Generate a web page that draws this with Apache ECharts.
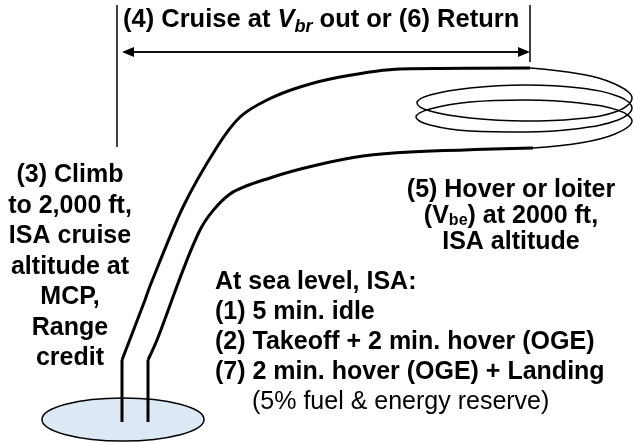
<!DOCTYPE html>
<html>
<head>
<meta charset="utf-8">
<script src="https://cdn.jsdelivr.net/npm/echarts@6/dist/echarts.min.js"></script>
<style>
html, body { margin: 0; padding: 0; background: #fff; }
#main { width: 634px; height: 442px; }
</style>
</head>
<body>
<div id="main"></div>
<script>
// diagram points, in picture coordinates (x right, y down)
const climbOutStem = [[122, 422], [122, 360]]
const climbOutCurve = [[122, 360], [145, 300], [150, 286], [183, 207], [217, 147], [240, 117], [267, 100], [300, 87], [340, 77], [400, 69], [530, 68]]
const returnStem = [[148, 422], [148, 360]]
const returnCurve = [[148, 360], [157, 340], [200, 230], [230, 194], [273, 177], [317, 165], [363, 156], [410, 152], [533, 148]]
const loiterSpiral = [
  [530, 68], [580, 74], [615, 84], [632, 98], [618, 111], [575, 119], [525, 121], [470, 118], [430, 111], [417, 103],
  [430, 95], [470, 88], [525, 85], [580, 88], [620, 97], [632, 108], [618, 120], [575, 129], [525, 132], [470, 131], [430, 125], [416, 117],
  [430, 109], [470, 102], [525, 100], [580, 103], [620, 111], [632, 121], [615, 134], [580, 143], [533, 148]
]
const cruiseSpan = [[128, 52], [524, 52]]
const leftTick = [[117, 5], [117, 147]]
const rightTick = [[530, 5], [530, 62]]
const padBox = [[42, 398, 204, 441]]

const font = '"Liberation Sans", Arial, sans-serif'

const myChart = echarts.init(document.getElementById('main'))

function lineSeries (data, width, smooth) {
  return {
    type: 'line',
    data: data,
    symbol: 'none',
    smooth: smooth,
    silent: true,
    lineStyle: { color: '#000', width: width },
    z: 3
  }
}

const option = {
  animation: false,
  backgroundColor: '#fff',
  grid: { left: 0, right: 0, top: 0, bottom: 0 },
  xAxis: { type: 'value', min: 0, max: 634, show: false },
  yAxis: { type: 'value', min: 0, max: 442, inverse: true, show: false },
  series: [
    {
      type: 'custom',
      silent: true,
      data: padBox,
      renderItem: function (params, api) {
        const p0 = api.coord([api.value(0), api.value(1)])
        const p1 = api.coord([api.value(2), api.value(3)])
        return {
          type: 'ellipse',
          shape: {
            cx: (p0[0] + p1[0]) / 2,
            cy: (p0[1] + p1[1]) / 2,
            rx: Math.abs(p1[0] - p0[0]) / 2,
            ry: Math.abs(p1[1] - p0[1]) / 2
          },
          style: { fill: '#dce9f5', stroke: '#000', lineWidth: 1.5 }
        }
      },
      z: 1
    },
    lineSeries(climbOutStem, 3, false),
    lineSeries(climbOutCurve, 3, 0.3),
    lineSeries(returnStem, 3, false),
    lineSeries(returnCurve, 3, 0.3),
    lineSeries(loiterSpiral, 1.5, 0.4),
    lineSeries(leftTick, 1.5, false),
    lineSeries(rightTick, 1.5, false),
    {
      type: 'line',
      data: cruiseSpan,
      symbol: 'none',
      silent: true,
      lineStyle: { color: '#000', width: 1.5 },
      markLine: {
        silent: true,
        symbol: ['triangle', 'triangle'],
        symbolSize: [10, 12],
        label: { show: false },
        lineStyle: { color: '#000', width: 1.5, type: 'solid' },
        data: [[{ coord: cruiseSpan[0] }, { coord: cruiseSpan[1] }]]
      }
    }
  ],
  graphic: [
    {
      type: 'text',
      x: 123,
      y: 20,
      style: {
        text: '(4) Cruise at {i|V}{s|br} out or (6) Return',
        font: 'bold 25.5px ' + font,
        lineHeight: 32,
        fill: '#000',
        align: 'left',
        verticalAlign: 'middle',
        rich: {
          i: { fontStyle: 'italic', fontWeight: 'bold', fontSize: 25.5, fontFamily: font, lineHeight: 32 },
          s: { fontStyle: 'italic', fontWeight: 'bold', fontSize: 18, fontFamily: font, lineHeight: 17, verticalAlign: 'bottom' }
        }
      }
    },
    {
      type: 'text',
      x: 70,
      y: 160,
      style: {
        text: '(3) Climb\nto 2,000 ft,\nISA cruise\naltitude at\nMCP,\nRange\ncredit',
        font: 'bold 25px ' + font,
        lineHeight: 30.5,
        fill: '#000',
        align: 'center',
        verticalAlign: 'top'
      }
    },
    {
      type: 'text',
      x: 511,
      y: 177,
      style: {
        text: '(5) Hover or loiter\n(V{s|be}) at 2000 ft,\nISA altitude',
        font: 'bold 25px ' + font,
        lineHeight: 26,
        fill: '#000',
        align: 'center',
        verticalAlign: 'top',
        rich: {
          s: { fontWeight: 'bold', fontSize: 16, fontFamily: font, lineHeight: 12, verticalAlign: 'bottom' }
        }
      }
    },
    {
      type: 'text',
      x: 215,
      y: 267,
      style: {
        text: 'At sea level, ISA:\n(1) 5 min. idle\n(2) Takeoff + 2 min. hover (OGE)\n(7) 2 min. hover (OGE) + Landing',
        font: 'bold 25px ' + font,
        lineHeight: 30,
        fill: '#000',
        align: 'left',
        verticalAlign: 'top'
      }
    },
    {
      type: 'text',
      x: 252,
      y: 402,
      style: {
        text: '(5% fuel & energy reserve)',
        font: '25px ' + font,
        fill: '#000',
        align: 'left',
        verticalAlign: 'middle'
      }
    }
  ]
}

myChart.setOption(option)
</script>
</body>
</html>
